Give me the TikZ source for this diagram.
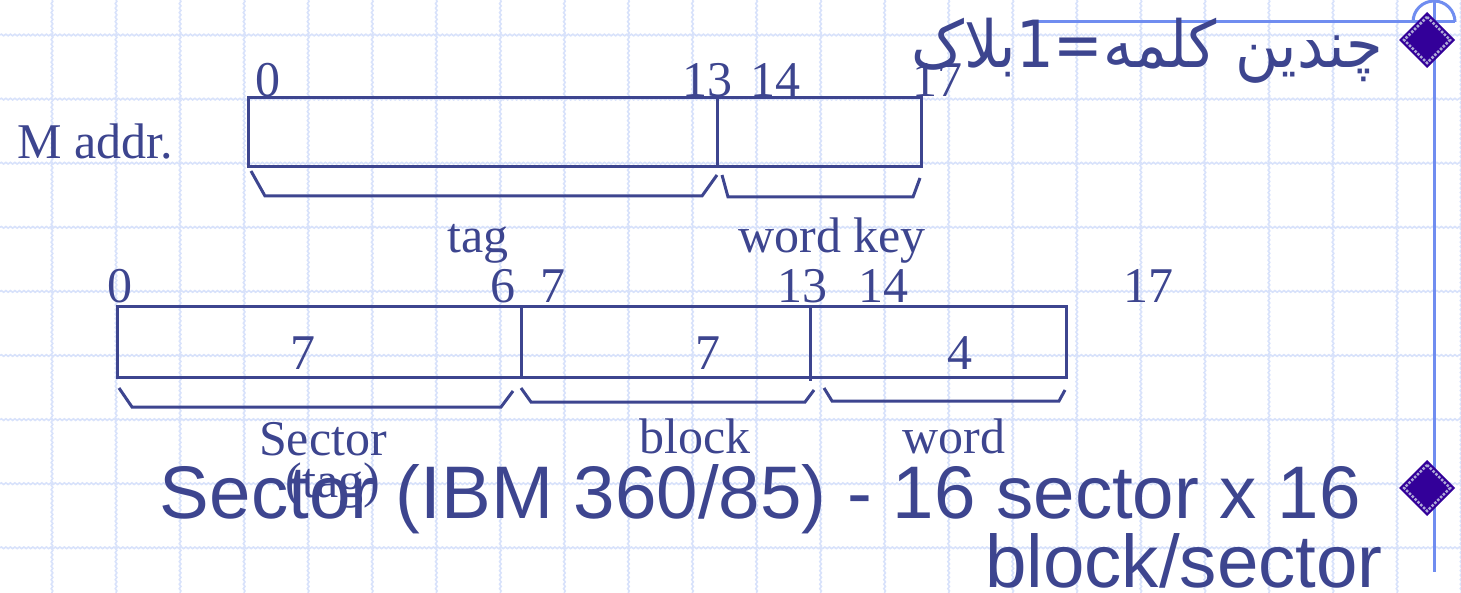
\documentclass[tikz,border=0pt]{standalone}
\usepackage{fontspec}
\setmainfont{Liberation Serif}
\newfontfamily\arialf{Liberation Sans}
\newfontfamily\arabicfont[Script=Arabic]{DejaVu Sans}
\usetikzlibrary{decorations.pathmorphing}
\TeXXeTstate=1
\definecolor{txt}{RGB}{61,69,143}
\definecolor{gridc}{RGB}{216,226,251}
\definecolor{decoc}{RGB}{112,141,240}
\definecolor{bulletc}{RGB}{51,0,153}
\definecolor{ringc}{RGB}{175,170,215}
\begin{document}
\begin{tikzpicture}[x=1pt,y=-1pt,
  lab/.style={inner sep=0pt, anchor=base, text=txt, font=\fontsize{50}{50}\selectfont},
  fieldline/.style={draw=txt, line width=3pt},
  braceline/.style={draw=txt, line width=3pt, line join=miter},
  gridline/.style={draw=gridc, line width=1.6pt, decorate, decoration={snake, amplitude=0.8pt, segment length=4.5pt}},
  decoline/.style={draw=decoc, line width=3pt},
  big/.style={inner sep=0pt, anchor=base east, text=txt, font=\arialf\fontsize{74.5}{74.5}\selectfont}]
\useasboundingbox (0,0) rectangle (1461,593);
\fill[white] (0,0) rectangle (1461,593);
% grid
\foreach \i in {0,...,22} \draw[gridline] ({52+64.05*\i},0) -- ({52+64.05*\i},593);
\foreach \j in {0,...,8} \draw[gridline] (0,{35+64.1*\j}) -- (1461,{35+64.1*\j});
% top-right decoration
\draw[decoline] (1032,22) -- (1455,22);
\draw[decoline] (1434,0) -- (1434,572);
\draw[decoline] (1413,22) arc[start angle=180, end angle=360, radius=21];
% bullets
\foreach \cy in {40,488} {
  \fill[bulletc] (1427,\cy-28) -- (1455,\cy) -- (1427,\cy+28) -- (1399,\cy) -- cycle;
  \draw[ringc, line width=2.5pt, dash pattern=on 2.5pt off 1.5pt] (1427,\cy-23) -- (1450,\cy) -- (1427,\cy+23) -- (1404,\cy) -- cycle;
}
% row 1
\draw[fieldline] (248,98) rectangle (921,167);
\draw[fieldline] (717,98) -- (717,168);
\draw[braceline] (251,171) -- (265,196) -- (702,196) -- (717,175);
\draw[braceline] (722,175) -- (728,197) -- (913,197) -- (920,178);
\node[lab, anchor=base west] (maddr) at (17,159) {M addr.};
\node[lab] (a0) at (268,97) {0};
\node[lab] (a13) at (707,97) {13};
\node[lab] (a14) at (775,97) {14};
\node[lab] (a17) at (937,97) {17};
\node[lab] (tag) at (478,253) {tag};
\node[lab] (wkey) at (832,253) {word key};
% row 2
\draw[fieldline] (117,307) rectangle (1066,377);
\draw[fieldline] (521,307) -- (521,377);
\draw[fieldline] (810,307) -- (810,381);
\draw[braceline] (119,388) -- (132,407) -- (501,407) -- (513,391);
\draw[braceline] (521,388) -- (531,402) -- (805,402) -- (814,390);
\draw[braceline] (824,388) -- (832,401) -- (1059,401) -- (1065,390);
\node[lab] (b0) at (120,303) {0};
\node[lab] (b6) at (503,303) {6};
\node[lab] (b7) at (553,303) {7};
\node[lab] (b13) at (802,303) {13};
\node[lab] (b14) at (883,303) {14};
\node[lab] (b17) at (1148,303) {17};
\node[lab] (n7a) at (303,370) {7};
\node[lab] (n7b) at (708,370) {7};
\node[lab] (n4) at (960,370) {4};
\node[lab] (sector) at (323,455) {Sector};
\node[lab] (tagp) at (333,497) {(tag)};
\node[lab] (block) at (695,453) {block};
\node[lab] (word) at (954,453) {word};
% bullet texts
\node[inner sep=0pt, anchor=base east, text=txt, font=\arabicfont\fontsize{65}{65}\selectfont] (fa) at (1383,68) {\scalebox{0.91}[1]{\beginR چندین کلمه=1بلاک\endR}};
\node[big] (l1) at (1361,518) {Sector (IBM 360/85) - 16 sector x 16};
\node[big] (l2) at (1383,587) {block/sector};
\end{tikzpicture}
\end{document}
